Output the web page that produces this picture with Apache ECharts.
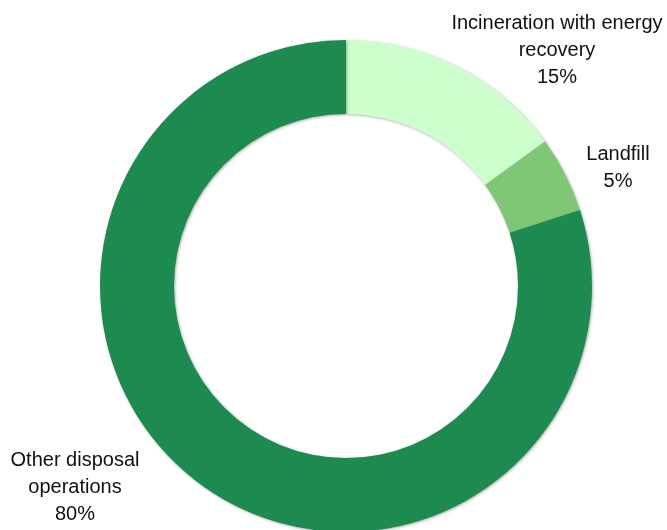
<!DOCTYPE html>
<html>
<head>
<meta charset="utf-8">
<script src="https://cdn.jsdelivr.net/npm/echarts@6/dist/echarts.min.js"></script>
<style>
  html, body { margin: 0; padding: 0; background: #fff; }
  #main { width: 667px; height: 530px; }
</style>
</head>
<body>
<div id="main"></div>
<script>
// categories and shares (%)
const categories = ["Incineration with energy\nrecovery", "Landfill", "Other disposal\noperations"];
const shares = [15, 5, 80];
const colors = ["#ccffcc", "#80c775", "#1d8a50"];
// label anchor points (pixels), Excel places them by hand
const labelPos = [[557, 50], [618, 168], [75, 487]];

const chart = echarts.init(document.getElementById("main"));

chart.setOption({
  backgroundColor: "#fff",
  animation: false,
  series: [{
    type: "pie",
    center: [346, 286],
    radius: [172, 246],
    startAngle: 90,
    clockwise: true,
    silent: true,
    data: categories.map((name, i) => ({
      name: name,
      value: shares[i],
      itemStyle: { color: colors[i] }
    })),
    itemStyle: {
      borderWidth: 0,
      shadowBlur: 3,
      shadowColor: "rgba(0,0,0,0.3)",
      shadowOffsetX: 1,
      shadowOffsetY: 1
    },
    label: {
      show: true,
      formatter: "{b}\n{c}%",
      fontFamily: "'Liberation Sans Narrow', sans-serif",
      fontSize: 20,
      lineHeight: 27,
      color: "#111",
      align: "center",
      overflow: "none",
      width: 300
    },
    labelLine: { show: false },
    labelLayout: function (p) {
      const pos = labelPos[p.dataIndex];
      return { x: pos[0], y: pos[1], align: "center", verticalAlign: "middle" };
    }
  }]
});
</script>
</body>
</html>
